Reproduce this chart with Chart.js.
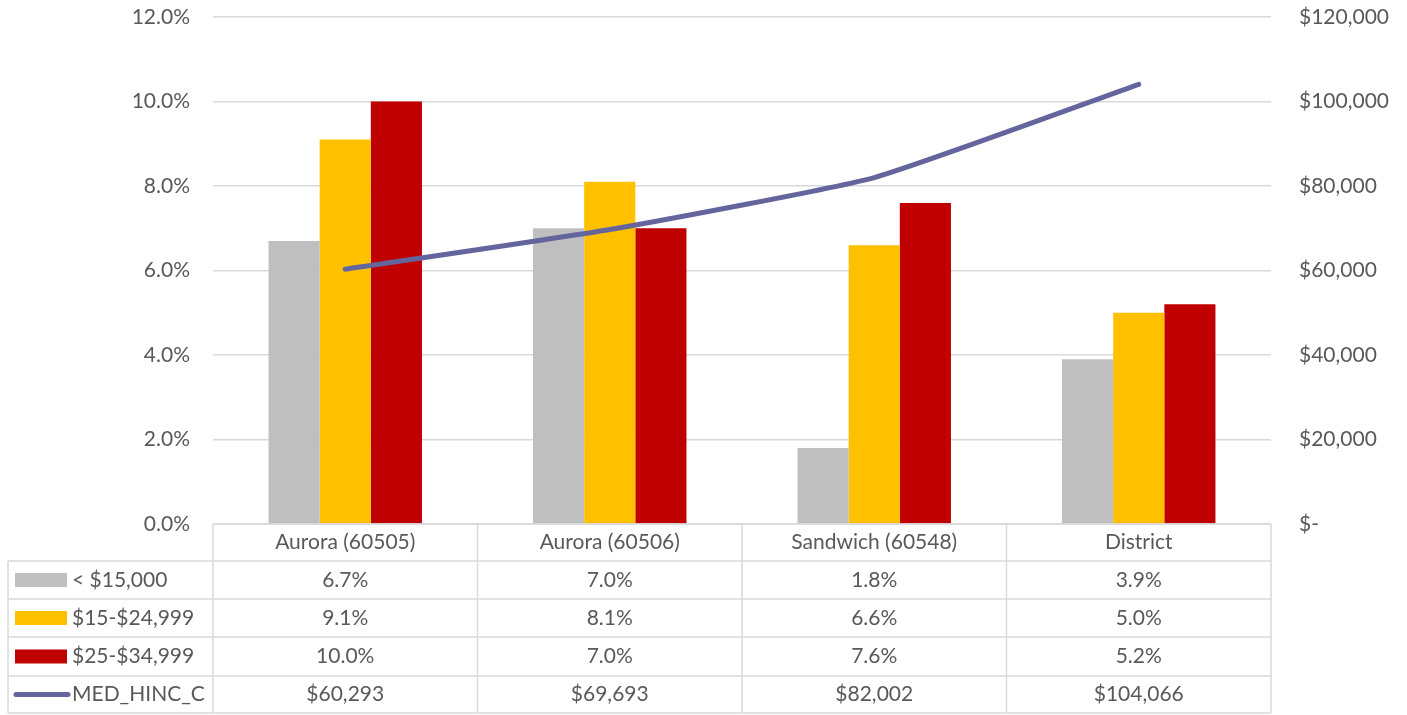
<!doctype html>
<html lang="en">
<head>
    <meta charset="UTF-8">
    <script src="https://cdn.jsdelivr.net/npm/chart.js@4.4.1/dist/chart.umd.min.js"></script>
    <title>Household income share and median income</title>
    <style>
        *, ::before, ::after {
            margin: 0;
            padding: 0;
            box-sizing: border-box;
        }

        body {
            background: #fff;
        }

        .container {
            position: relative;
            width: 1407px;
            height: 715px;
        }
    </style>
</head>
<body>
<div class="container">
    <canvas id="canvas"></canvas>
</div>

<script>
    // Categories and series
    const areas = ["Aurora (60505)", "Aurora (60506)", "Sandwich (60548)", "District"];
    const under15k = [6.7, 7.0, 1.8, 3.9];
    const from15to25k = [9.1, 8.1, 6.6, 5.0];
    const from25to35k = [10.0, 7.0, 7.6, 5.2];
    const medianIncome = [60293, 69693, 82002, 104066];

    const seriesNames = ["< $15,000", "$15-$24,999", "$25-$34,999", "MED_HINC_C"];
    const seriesColors = ["#bfbfbf", "#ffc000", "#c00000", "#65659e"];

    const textColor = "#595959";
    const gridColor = "#d9d9d9";
    const fontFamily = "Lato, 'Liberation Sans', sans-serif";
    const fontSize = 21;

    const pct = (v) => v.toFixed(1) + "%";
    const money = (v) => (v === 0 ? "$-" : "$" + v.toLocaleString("en-US"));

    // Data table under the plot (Excel style)
    const dataTable = {
        id: "dataTable",
        afterDraw(chart) {
            const ctx = chart.ctx;
            const x = chart.scales.x;
            const area = chart.chartArea;
            const colW = area.width / areas.length;
            const rowsY = [524, 561, 599, 637, 676, 713];
            const tableLeft = 8;

            ctx.save();
            ctx.strokeStyle = gridColor;
            ctx.lineWidth = 1.5;

            // horizontal lines
            ctx.beginPath();
            ctx.moveTo(area.left, rowsY[0]);
            ctx.lineTo(area.right, rowsY[0]);
            for (let r = 1; r < rowsY.length; r++) {
                ctx.moveTo(tableLeft, rowsY[r]);
                ctx.lineTo(area.right, rowsY[r]);
            }
            // vertical lines
            ctx.moveTo(tableLeft, rowsY[1]);
            ctx.lineTo(tableLeft, rowsY[5]);
            for (let i = 0; i <= areas.length; i++) {
                const px = area.left + i * colW;
                ctx.moveTo(px, rowsY[0]);
                ctx.lineTo(px, rowsY[5]);
            }
            ctx.stroke();

            ctx.font = fontSize + "px " + fontFamily;
            ctx.fillStyle = textColor;
            ctx.textBaseline = "middle";

            // header
            ctx.textAlign = "center";
            areas.forEach((name, i) => {
                ctx.fillText(name, x.getPixelForValue(i), (rowsY[0] + rowsY[1]) / 2);
            });

            // rows
            const rows = [
                under15k.map(pct),
                from15to25k.map(pct),
                from25to35k.map(pct),
                medianIncome.map(money),
            ];
            rows.forEach((vals, r) => {
                const cy = (rowsY[r + 1] + rowsY[r + 2]) / 2;
                // legend key
                if (r < 3) {
                    ctx.fillStyle = seriesColors[r];
                    ctx.fillRect(15, cy - 7, 52, 14);
                } else {
                    ctx.strokeStyle = seriesColors[r];
                    ctx.lineWidth = 5;
                    ctx.lineCap = "round";
                    ctx.beginPath();
                    ctx.moveTo(16, cy);
                    ctx.lineTo(68, cy);
                    ctx.stroke();
                }
                ctx.fillStyle = textColor;
                ctx.textAlign = "left";
                ctx.fillText(seriesNames[r], 72, cy);
                ctx.textAlign = "center";
                vals.forEach((v, i) => ctx.fillText(v, x.getPixelForValue(i), cy));
            });
            ctx.restore();
        },
    };

    // fixed axis box, no extra room for half labels
    const fitAxis = (w) => (s) => {
        s.width = w;
        s.paddingTop = 0;
        s.paddingBottom = 0;
    };

    new Chart(document.getElementById("canvas"), {
        type: "bar",
        data: {
            labels: areas,
            datasets: [
                {
                    type: "line",
                    label: seriesNames[3],
                    data: medianIncome,
                    yAxisID: "y1",
                    borderColor: seriesColors[3],
                    borderWidth: 5,
                    borderCapStyle: "round",
                    pointRadius: 0,
                    tension: 0.15,
                    order: 0,
                },
                {label: seriesNames[0], data: under15k, backgroundColor: seriesColors[0], order: 1},
                {label: seriesNames[1], data: from15to25k, backgroundColor: seriesColors[1], order: 1},
                {label: seriesNames[2], data: from25to35k, backgroundColor: seriesColors[2], order: 1},
            ],
        },
        options: {
            responsive: true,
            maintainAspectRatio: false,
            animation: false,
            layout: {padding: {top: 17, bottom: 191, left: 0, right: 0}},
            datasets: {bar: {categoryPercentage: 0.58, barPercentage: 1.0}},
            plugins: {legend: {display: false}, tooltip: {enabled: false}},
            scales: {
                x: {display: false, offset: true},
                y: {
                    position: "left",
                    min: 0,
                    max: 12,
                    ticks: {
                        stepSize: 2,
                        padding: 23,
                        color: textColor,
                        font: {family: fontFamily, size: fontSize},
                        callback: (v) => pct(v),
                    },
                    grid: {color: gridColor, lineWidth: 1.5, drawTicks: false},
                    border: {display: false},
                    afterFit: fitAxis(213),
                },
                y1: {
                    position: "right",
                    min: 0,
                    max: 120000,
                    ticks: {
                        stepSize: 20000,
                        padding: 28,
                        color: textColor,
                        font: {family: fontFamily, size: fontSize},
                        callback: (v) => money(v),
                    },
                    grid: {display: false, drawTicks: false},
                    border: {display: false},
                    afterFit: fitAxis(136),
                },
            },
        },
        plugins: [dataTable],
    });
</script>
</body>
</html>
